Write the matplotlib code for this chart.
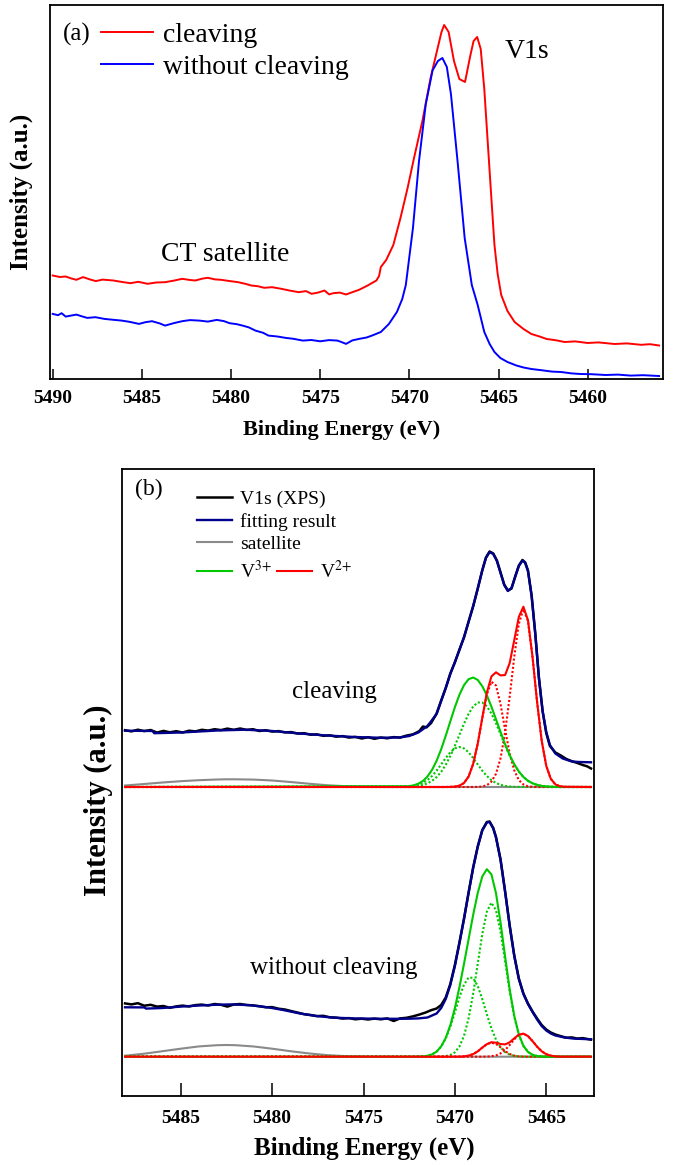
import numpy as np
import matplotlib
matplotlib.use("Agg")
import matplotlib.pyplot as plt

plt.rcParams['font.family'] = ['Liberation Serif', 'DejaVu Serif']
plt.rcParams['mathtext.fontset'] = 'stix'

# ---------------- panel (a): V1s raw spectra ----------------
a_cleav_e = [5490.0, 5489.6, 5489.27, 5488.95, 5488.67, 5488.3, 5487.9, 5487.58, 5487.2, 5486.6,
             5486.1, 5485.64, 5485.2, 5484.68, 5484.2, 5483.7, 5483.2, 5482.74, 5482.3, 5482.0,
             5481.6, 5481.3, 5480.9, 5480.56, 5480.1, 5479.6, 5479.2, 5478.87, 5478.5, 5478.14,
             5477.7, 5477.18, 5476.7, 5476.2, 5475.8, 5475.48, 5475.1, 5474.76, 5474.5, 5474.27,
             5473.9, 5473.55, 5473.2, 5472.82, 5472.34, 5471.85, 5471.7, 5471.6, 5471.3, 5470.9,
             5470.5, 5470.1, 5469.74, 5469.27, 5468.8, 5468.4, 5468.2, 5468.05, 5467.8, 5467.5,
             5467.2, 5466.88, 5466.6, 5466.4, 5466.2, 5466.0, 5465.8, 5465.6, 5465.4, 5465.23,
             5465.05, 5464.85, 5464.5, 5464.1, 5463.6, 5463.16, 5462.7, 5462.3, 5461.8, 5461.3,
             5460.7, 5460.0, 5459.4, 5458.5, 5457.8, 5457.0, 5456.5, 5456.0]
a_cleav_i = [103.5, 102.0, 102.5, 100.5, 99.2, 101.9, 99.5, 97.9, 99.4, 98.5,
             97.0, 95.8, 97.2, 95.2, 96.5, 96.8, 98.4, 100.2, 99.0, 98.5,
             100.4, 101.2, 99.6, 99.2, 98.0, 96.8, 95.2, 93.5, 92.8, 91.2,
             91.8, 90.2, 88.4, 86.8, 87.9, 85.2, 86.5, 88.5, 84.6, 85.8,
             86.4, 84.5, 86.8, 89.2, 93.5, 98.5, 103.0, 112.0, 119.0, 134.0,
             161.0, 191.0, 221.0, 258.0, 302.0, 332.0, 347.0, 354.0, 347.0, 318.0,
             300.0, 297.0, 322.0, 338.0, 342.0, 330.0, 290.0, 235.0, 180.0, 134.0,
             105.0, 84.0, 68.0, 57.0, 50.0, 45.0, 42.5, 40.0, 38.8, 37.0,
             37.6, 36.0, 36.6, 35.0, 35.6, 34.2, 34.8, 33.5]

a_raw_e = [5490.0, 5489.7, 5489.5, 5489.27, 5488.95, 5488.67, 5488.35, 5488.06, 5487.6, 5487.1,
           5486.6, 5486.13, 5485.7, 5485.16, 5484.8, 5484.43, 5484.0, 5483.7, 5483.2, 5482.74,
           5482.3, 5481.77, 5481.3, 5480.8, 5480.4, 5480.08, 5479.7, 5479.35, 5479.0, 5478.63,
           5478.2, 5477.9, 5477.4, 5476.93, 5476.5, 5475.97, 5475.5, 5475.0, 5474.5, 5474.03,
           5473.8, 5473.55, 5473.2, 5472.82, 5472.4, 5472.1, 5471.6, 5471.15, 5470.7, 5470.4,
           5470.2, 5469.8, 5469.46, 5469.08, 5468.7, 5468.4, 5468.15, 5467.9, 5467.67, 5467.3,
           5466.9, 5466.5, 5466.17, 5465.8, 5465.5, 5465.23, 5464.9, 5464.5, 5464.0, 5463.6,
           5463.16, 5462.6, 5462.0, 5461.5, 5460.9, 5460.4, 5459.8, 5459.0, 5458.3, 5457.6,
           5456.9, 5456.0]
a_raw_i = [65.1, 63.8, 65.8, 62.4, 63.5, 64.4, 62.6, 61.1, 61.8, 60.1,
           59.2, 58.4, 57.2, 55.1, 56.8, 57.8, 55.6, 53.4, 55.9, 57.8,
           58.9, 58.4, 57.4, 59.1, 57.9, 55.8, 54.9, 53.4, 51.6, 48.4,
           46.2, 43.4, 42.5, 41.1, 40.2, 38.4, 39.0, 37.7, 38.9, 38.4,
           36.9, 35.1, 38.6, 40.1, 41.5, 43.4, 47.0, 55.0, 67.0, 80.0,
           94.0, 151.0, 218.0, 275.0, 308.6, 318.0, 321.0, 312.0, 285.0, 218.0,
           141.0, 94.0, 74.0, 47.0, 35.0, 27.0, 21.0, 17.0, 13.5, 11.5,
           10.0, 8.8, 7.4, 7.0, 5.6, 5.0, 4.8, 4.0, 4.4, 3.4,
           3.8, 3.0]

a_ticks = [5490, 5485, 5480, 5475, 5470, 5465, 5460]

# ---------------- panel (b): fits ----------------
b_left, b_right = 5488.05, 5462.55
off_c = 309.0   # baseline of the "cleaving" curve set
off_w = 39.3    # baseline of the "without cleaving" curve set

dat_c_e = [5488.05, 5487.7, 5487.35, 5487.0, 5486.65, 5486.3, 5485.95, 5485.6, 5485.25, 5484.9,
           5484.55, 5484.2, 5483.85, 5483.5, 5483.15, 5482.8, 5482.45, 5482.1, 5481.75, 5481.4,
           5481.05, 5480.7, 5480.35, 5480.0, 5479.65, 5479.3, 5478.95, 5478.6, 5478.25, 5477.9,
           5477.55, 5477.2, 5476.85, 5476.5, 5476.15, 5475.8, 5475.45, 5475.1, 5474.75, 5474.4,
           5474.05, 5473.7, 5473.35, 5473.0, 5472.65, 5472.3, 5471.95, 5471.75, 5471.55, 5471.3,
           5471.0, 5470.75, 5470.5, 5470.25, 5470.0, 5469.75, 5469.5, 5469.25, 5469.0, 5468.75,
           5468.5, 5468.3, 5468.1, 5467.9, 5467.7, 5467.5, 5467.3, 5467.1, 5466.9, 5466.7,
           5466.5, 5466.3, 5466.15, 5466.0, 5465.8, 5465.6, 5465.4, 5465.2, 5465.0, 5464.8,
           5464.5, 5464.2, 5463.9, 5463.6, 5463.3, 5463.0, 5462.75, 5462.55]
dat_c_i = [365.8, 364.6, 366.3, 364.9, 366.0, 363.4, 365.1, 363.7, 364.8, 363.5,
           365.3, 364.6, 366.2, 365.4, 366.8, 365.9, 367.4, 366.2, 367.5, 366.1,
           366.8, 365.0, 365.8, 364.4, 364.9, 363.6, 363.9, 362.4, 362.8, 361.3,
           361.6, 360.2, 360.7, 359.3, 359.9, 358.4, 359.1, 357.5, 358.8, 357.2,
           358.5, 357.7, 358.9, 358.4, 360.4, 361.6, 364.8, 369.5, 368.6, 373.0,
           382.5, 395.5, 408.0, 422.5, 433.5, 446.5, 458.5, 474.5, 489.5, 507.5,
           525.5, 538.5, 544.5, 542.5, 535.5, 523.5, 511.5, 505.5, 507.5, 519.5,
           530.5, 536.0, 533.5, 525.5, 500.5, 462.5, 418.0, 385.0, 363.0, 350.0,
           343.5, 340.5, 337.0, 334.8, 333.0, 331.0, 329.6, 327.5]

fit_c_e = [5488.05, 5486.55, 5486.45, 5485.0, 5483.0, 5481.5, 5480.0, 5478.5, 5477.0, 5475.5,
           5474.0, 5473.0, 5472.5, 5472.0, 5471.5, 5471.0, 5470.75, 5470.5, 5470.25, 5470.0,
           5469.75, 5469.5, 5469.25, 5469.0, 5468.75, 5468.5, 5468.3, 5468.1, 5467.9, 5467.7,
           5467.5, 5467.3, 5467.1, 5466.9, 5466.7, 5466.5, 5466.3, 5466.15, 5466.0, 5465.8,
           5465.6, 5465.4, 5465.2, 5465.0, 5464.8, 5464.5, 5464.1, 5463.6, 5463.2, 5462.55]
fit_c_i = [365.3, 365.0, 362.8, 363.5, 365.5, 366.3, 365.0, 362.5, 360.5, 359.0,
           358.2, 358.6, 360.0, 363.5, 370.0, 382.0, 395.0, 408.0, 422.0, 434.0,
           446.0, 459.0, 474.0, 490.0, 507.0, 526.0, 538.0, 544.0, 542.0, 535.0,
           523.0, 511.0, 505.0, 508.0, 519.0, 530.0, 535.5, 533.0, 525.0, 500.0,
           462.0, 418.0, 385.0, 364.0, 351.0, 342.5, 337.5, 334.5, 334.0, 333.7]

dat_w_e = dat_c_e[:47] + [5471.6, 5471.3, 5471.0, 5470.75, 5470.5, 5470.25, 5470.0, 5469.75, 5469.5, 5469.25,
                          5469.0, 5468.75, 5468.5, 5468.25, 5468.1, 5467.9, 5467.75, 5467.5, 5467.25, 5467.0,
                          5466.75, 5466.5, 5466.25, 5466.0, 5465.75, 5465.5, 5465.25, 5465.0, 5464.75, 5464.5,
                          5464.2, 5463.9, 5463.6, 5463.3, 5463.0, 5462.75, 5462.55]
dat_w_i = [92.6, 91.6, 92.8, 90.3, 91.2, 89.4, 90.0, 88.2, 89.6, 90.4,
           89.5, 90.9, 91.4, 90.5, 92.0, 91.2, 89.4, 91.5, 92.0, 91.0,
           90.6, 89.8, 88.7, 88.9, 87.3, 86.5, 84.9, 83.4, 81.8, 81.0,
           79.9, 80.2, 78.7, 78.4, 77.4, 77.9, 76.7, 77.3, 76.5, 77.4,
           76.7, 77.6, 75.0, 77.6, 78.2, 79.6, 81.4,
           83.5, 85.8, 87.5, 91.0, 98.5, 112.0, 131.0, 153.5, 177.5, 203.5,
           228.5, 249.5, 266.0, 274.0, 274.5, 268.0, 259.0, 236.5, 204.5, 170.5,
           140.5, 117.5, 102.5, 92.5, 84.5, 77.5, 71.0, 66.5, 63.5, 61.5,
           59.8, 58.3, 58.6, 57.4, 57.9, 57.0, 56.4]

fit_w_e = [5488.05, 5487.0, 5486.9, 5486.0, 5485.0, 5484.0, 5483.0, 5482.2, 5481.2, 5480.2,
           5479.4, 5478.5, 5477.6, 5476.6, 5475.5, 5474.0, 5473.0, 5472.5, 5472.0, 5471.5,
           5471.0, 5470.75, 5470.5, 5470.25, 5470.0, 5469.75, 5469.5, 5469.25, 5469.0, 5468.75,
           5468.5, 5468.25, 5468.1, 5467.9, 5467.75, 5467.5, 5467.25, 5467.0, 5466.75, 5466.5,
           5466.25, 5466.0, 5465.75, 5465.5, 5465.25, 5465.0, 5464.75, 5464.5, 5464.0, 5463.5,
           5462.55]
fit_w_i = [88.7, 88.6, 87.4, 88.0, 89.4, 90.5, 91.3, 91.6, 90.8, 88.6,
           86.0, 82.6, 80.0, 78.3, 77.6, 77.2, 77.2, 77.3, 77.6, 78.5,
           82.5, 88.0, 97.0, 111.0, 130.0, 153.0, 177.0, 203.0, 228.0, 249.0,
           265.5, 273.5, 274.0, 267.5, 258.5, 236.0, 204.0, 170.0, 140.0, 117.0,
           102.0, 92.0, 84.0, 76.5, 70.0, 65.5, 62.5, 60.5, 58.5, 57.4,
           56.7]

sat_e = [5488.05, 5487.0, 5486.0, 5485.0, 5484.0, 5483.0, 5482.5, 5482.0, 5481.0, 5480.0,
         5479.0, 5478.0, 5477.0, 5476.0, 5475.0, 5474.0, 5462.55]
sat_c = [1.5, 3.0, 4.5, 5.8, 6.8, 7.5, 7.7, 7.7, 7.4, 6.5, 5.0, 3.3, 1.8, 0.8, 0.3, 0.0, 0.0]
sat_w = [1.0, 3.0, 5.5, 8.0, 10.3, 11.5, 11.7, 11.5, 10.2, 8.0, 5.5, 3.3, 1.6, 0.6, 0.2, 0.0, 0.0]

# component peaks, sampled on one energy grid
comp_e = [5472.5, 5472.25, 5472.0, 5471.75, 5471.5, 5471.25, 5471.0, 5470.75, 5470.5, 5470.25,
          5470.0, 5469.75, 5469.5, 5469.25, 5469.0, 5468.75, 5468.5, 5468.25, 5468.0, 5467.75,
          5467.5, 5467.25, 5467.0, 5466.75, 5466.5, 5466.25, 5466.0, 5465.75, 5465.5, 5465.25,
          5465.0, 5464.75, 5464.5, 5464.25, 5464.0]
v3a_c = [0.3, 0.6, 1.1, 2.0, 3.6, 6.1, 9.9, 15.1, 22.2, 30.9, 41.2, 52.3, 63.3, 73.1, 80.5,
         84.5, 84.5, 80.7, 73.4, 63.7, 52.8, 41.6, 31.3, 22.5, 15.4, 10.0, 6.2, 3.7, 2.1, 1.1,
         0.6, 0.3, 0.1, 0.0, 0.0]
v3b_c = [0.5, 1.1, 2.2, 4.0, 6.9, 11.0, 16.3, 22.6, 29.0, 34.7, 38.6, 40.0, 38.6, 34.7, 29.0,
         22.6, 16.3, 11.0, 6.9, 4.0, 2.2, 1.1, 0.5, 0.2, 0.1, 0, 0, 0, 0, 0, 0, 0, 0, 0, 0]
v2a_c = [0, 0, 0, 0, 0, 0, 0, 0, 0, 0.1, 0.4, 1.3, 4.0, 10.4, 23.0, 43.2, 68.7, 92.5, 105.3,
         101.5, 82.8, 57.2, 33.5, 16.6, 6.9, 2.5, 0.7, 0.2, 0, 0, 0, 0, 0, 0, 0]
v2b_c = [0, 0, 0, 0, 0, 0, 0, 0, 0, 0, 0, 0, 0, 0, 0, 0.1, 0.5, 1.8, 5.3, 13.2, 28.8, 54.8,
         90.5, 130.3, 163.2, 177.8, 166.1, 129.8, 84.9, 46.4, 21.2, 8.1, 2.6, 0.7, 0.2]
v3a_w = [0, 0, 0, 0, 0, 0, 0.1, 0.2, 0.6, 1.7, 4.4, 10.2, 20.8, 38.2, 62.9, 92.8, 122.6,
         145.1, 154.0, 146.4, 124.7, 95.3, 65.2, 40.0, 22.0, 10.8, 4.8, 1.9, 0.7, 0.2, 0.1,
         0, 0, 0, 0]
v3b_w = [0, 0, 0.1, 0.3, 0.9, 2.3, 5.0, 10.1, 18.2, 29.8, 44.2, 59.4, 72.1, 79.2, 78.8, 70.8,
         57.6, 42.4, 28.3, 17.1, 9.3, 4.6, 2.0, 0.8, 0.3, 0.1, 0, 0, 0, 0, 0, 0, 0, 0, 0]
v2a_w = [0, 0, 0, 0, 0, 0, 0, 0, 0, 0, 0, 0, 0.3, 1.0, 2.6, 5.3, 9.1, 12.5, 14.0, 12.7, 9.4,
         5.6, 2.7, 1.1, 0.3, 0.1, 0, 0, 0, 0, 0, 0, 0, 0, 0]
v2b_w = [0, 0, 0, 0, 0, 0, 0, 0, 0, 0, 0, 0, 0, 0, 0, 0, 0, 0.1, 0.5, 1.3, 3.3, 6.7, 11.7,
         17.3, 21.7, 23.0, 20.6, 15.6, 10.0, 5.4, 2.5, 1.0, 0.3, 0, 0]

b_ticks = [5485, 5480, 5475, 5470, 5465]

GREEN = '#00c800'
RED = '#ff0000'
NAVY = '#00008c'
GREY = '#8a8a8a'


def full(vals, off):
    # pad a component out to the plotted energy range with zeros
    x = np.r_[b_left, comp_e, b_right]
    y = np.r_[0.0, vals, 0.0] + off
    return x, y


def style_axis(ax, ticks, length, pad):
    ax.set_xticks(ticks)
    ax.set_yticks([])
    ax.tick_params(axis='x', direction='in', length=length, width=1.1, pad=pad,
                   labelsize=14, top=False)
    for lab in ax.get_xticklabels():
        lab.set_fontweight('bold')
    for sp in ax.spines.values():
        sp.set_linewidth(1.3)


fig = plt.figure(figsize=(6.78, 11.65), dpi=100)

# ---- (a)
ax = fig.add_axes([50 / 678, 786 / 1165, 613 / 678, 374 / 1165])
ax.plot(a_cleav_e, a_cleav_i, color='#ff0000', lw=1.4, label='cleaving')
ax.plot(a_raw_e, a_raw_i, color='#0000ff', lw=1.4, label='without cleaving')
ax.set_xlim(5490.15, 5455.78)
ax.set_ylim(0, 374)
style_axis(ax, a_ticks, 7, 8)
ax.legend(loc='upper left', bbox_to_anchor=(0.083, 0.953), frameon=False, fontsize=20,
          handlelength=1.87, handletextpad=0.36, labelspacing=0.22, borderpad=0,
          borderaxespad=0)
ax.text(0.044, 0.92, '(a)', transform=ax.transAxes, fontsize=18, ha='center', va='center')
ax.text(0.778, 0.875, 'V1s', transform=ax.transAxes, fontsize=20, ha='center', va='center')
ax.text(0.2855, 0.332, 'CT satellite', transform=ax.transAxes, fontsize=20,
        ha='center', va='center')
ax.set_xlabel('Binding Energy (eV)', fontsize=16, fontweight='bold')
ax.xaxis.set_label_coords(0.476, -0.136)
ax.xaxis.label.set_va('center')
ax.set_ylabel('Intensity (a.u.)', fontsize=18, fontweight='bold')
ax.yaxis.set_label_coords(-0.047, 0.5)
ax.yaxis.label.set_va('center')

# ---- (b)
bx = fig.add_axes([122.3 / 678, 69 / 1165, 472 / 678, 626.7 / 1165])
dot = (0, (1, 1))
for sat, a3, b3, a2, b2, off in [(sat_c, v3a_c, v3b_c, v2a_c, v2b_c, off_c),
                                 (sat_w, v3a_w, v3b_w, v2a_w, v2b_w, off_w)]:
    bx.plot(sat_e, np.array(sat) + off, color=GREY, lw=1.5)
    bx.plot(*full(a3, off), color=GREEN, lw=1.5, ls=dot)
    bx.plot(*full(b3, off), color=GREEN, lw=1.5, ls=dot)
    bx.plot(*full(a2, off), color=RED, lw=1.5, ls=dot)
    bx.plot(*full(b2, off), color=RED, lw=1.5, ls=dot)
    bx.plot(*full(np.add(a3, b3), off), color=GREEN, lw=1.5)
    bx.plot(*full(np.add(a2, b2), off), color=RED, lw=1.5)

bx.plot(dat_c_e, dat_c_i, color='black', lw=1.8)
bx.plot(fit_c_e, fit_c_i, color=NAVY, lw=1.7)
bx.plot(dat_w_e, dat_w_i, color='black', lw=1.8)
bx.plot(fit_w_e, fit_w_i, color=NAVY, lw=1.7)

bx.set_xlim(5488.2, 5462.37)
bx.set_ylim(0, 626.7)
style_axis(bx, b_ticks, 9.4, 10)

h_dat, = bx.plot([], [], color='black', lw=1.8, label='V1s (XPS)')
h_fit, = bx.plot([], [], color=NAVY, lw=1.7, label='fitting result')
h_sat, = bx.plot([], [], color=GREY, lw=1.5, label='satellite')
h_v3, = bx.plot([], [], color=GREEN, lw=1.5, label='V$^{3{+}}$')
h_v2, = bx.plot([], [], color=RED, lw=1.5, label='V$^{2{+}}$')
leg1 = bx.legend(handles=[h_dat, h_fit, h_sat], loc='upper left',
                 bbox_to_anchor=(0.1576, 0.966), frameon=False, fontsize=14,
                 handlelength=1.8, handletextpad=0.43, labelspacing=0.23,
                 borderpad=0, borderaxespad=0)
bx.add_artist(leg1)
bx.legend(handles=[h_v3, h_v2], loc='center left', bbox_to_anchor=(0.1576, 0.838),
          ncol=2, frameon=False, fontsize=14, handlelength=1.8, handletextpad=0.43,
          columnspacing=0.25, borderpad=0, borderaxespad=0)

bx.text(0.0566, 0.9686, '(b)', transform=bx.transAxes, fontsize=17, ha='center', va='center')
bx.text(0.4496, 0.6446, 'cleaving', transform=bx.transAxes, fontsize=18,
        ha='center', va='center')
bx.text(0.447, 0.204, 'without cleaving', transform=bx.transAxes, fontsize=18,
        ha='center', va='center')
bx.set_xlabel('Binding Energy (eV)', fontsize=18, fontweight='bold')
bx.xaxis.set_label_coords(0.512, -0.083)
bx.xaxis.label.set_va('center')
bx.set_ylabel('Intensity (a.u.)', fontsize=22, fontweight='bold')
bx.yaxis.set_label_coords(-0.05, 0.472)
bx.yaxis.label.set_va('center')

fig.savefig('out.png', dpi=100)
